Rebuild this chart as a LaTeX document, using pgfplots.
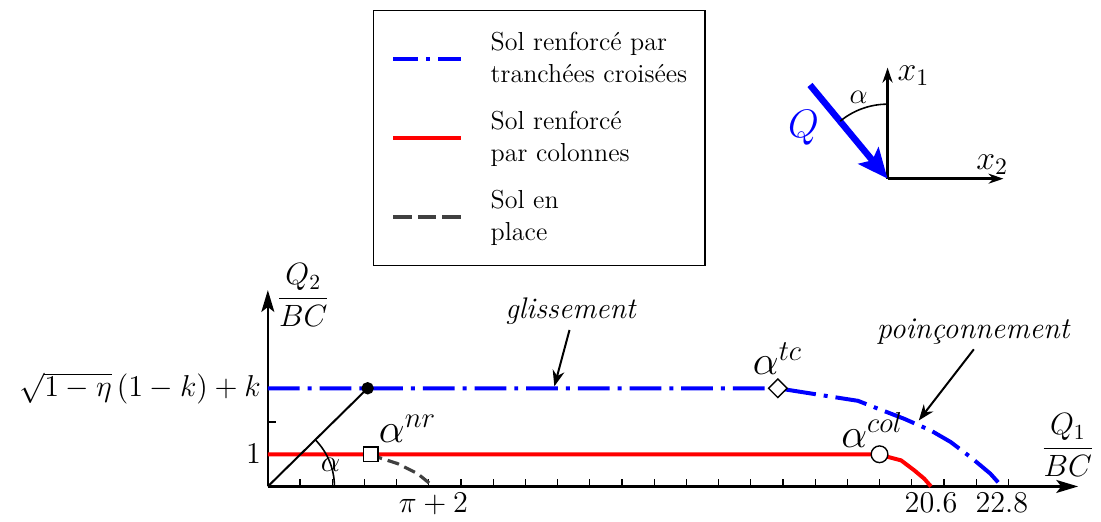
\RequirePackage{fix-cm}
\documentclass[border=0pt]{standalone}
\usepackage[no-math]{fontspec}
\usepackage{pgfplots}
\pgfplotsset{compat=1.18}
\usetikzlibrary{arrows.meta}
\definecolor{dg}{RGB}{64,64,64}
\newcommand\mf{\fontsize{15.2}{18}\selectfont}
\newcommand\ff{\fontsize{15.5}{18}\selectfont}
\newcommand\xf{\fontsize{17}{20}\selectfont}
\newcommand\sfa{\fontsize{14.4}{17}\selectfont}
\newcommand\af{\fontsize{20.7}{24}\selectfont}
\begin{document}
\begin{tikzpicture}
\begin{axis}[
  x=16.2pt, y=16.2pt,
  xmin=0, xmax=25.17, ymin=0, ymax=6.1,
  axis lines=middle,
  axis line style={line width=1.2pt, -{Stealth[length=11pt,width=6.5pt,inset=2.5pt]}},
  clip=false,
  xtick={1,...,23}, xticklabels={},
  extra x ticks={5.1416,20.6,22.8},
  extra x tick labels={$\pi+2$,$20.6$,$22.8$},
  extra x tick style={major tick length=0pt},
  ytick={1,2,3.05}, yticklabels={$1$,,$\sqrt{1-\eta}\,(1-k)+k$},
  tick align=inside,
  major tick length=4pt,
  tick style={line width=0.6pt, black},
  tick label style={font=\mf},
  legend image code/.code={\draw[#1] (0pt,0pt) -- (34pt,0pt);},
  legend cell align=left,
  legend style={at={(axis cs:3.26,14.80)}, anchor=north west, draw=black, line width=0.7pt,
    font=\fontsize{13.1}{16}\selectfont, inner xsep=9pt, inner ysep=11pt,
    row sep=13pt, column sep=14pt, nodes={inner sep=0pt, align=left}},
]
% invisible frame for the page size
\path (axis cs:-8.32,-1.0) rectangle (axis cs:25.67,15.11);

\addplot[blue, line width=2pt, dash pattern=on 16pt off 4pt on 2pt off 4pt,
  legend image code/.code={\draw[blue, line width=2pt, dash pattern=on 12.5pt off 4pt on 2pt off 4pt] (0pt,0pt) -- (34pt,0pt);}]
  coordinates {(0,3.05) (15.84,3.05) (16.22,2.99) (17.30,2.82) (18.33,2.66) (18.84,2.46) (19.77,2.10) (20.59,1.74) (21.21,1.38) (21.83,0.91) (22.44,0.40) (22.8,0)};
\addlegendentry{Sol renforcé par\\tranchées croisées}

\addplot[red, line width=2pt]
  coordinates {(0,1) (19.0,1) (19.25,0.92) (19.67,0.81) (20.08,0.50) (20.39,0.24) (20.6,0)};
\addlegendentry{Sol renforcé\\par colonnes}

\addplot[dg, line width=1.6pt, dash pattern=on 6pt off 3pt,
  legend image code/.code={\draw[dg, line width=1.6pt, dash pattern=on 9.33pt off 3pt] (0pt,0pt) -- (34pt,0pt);}]
  coordinates {(3.20,1) (3.41,0.91) (4.03,0.71) (4.65,0.40) (5.14,0)};
\addlegendentry{Sol en\\place}

% line from origin with dot
\addplot[black, line width=1pt, mark=*, mark indices={2}, mark size=2.6pt, forget plot]
  coordinates {(0,0) (3.10,3.05)};

% special points
\addplot[only marks, mark=square*, mark size=3.3pt, mark options={rotate=45, fill=white, draw=black, line width=0.7pt}, forget plot]
  coordinates {(15.84,3.05)};
\addplot[only marks, mark=square*, mark size=3.6pt, mark options={fill=white, draw=black, line width=0.7pt}, forget plot]
  coordinates {(3.20,1)};
\addplot[only marks, mark=*, mark size=4.2pt, mark options={fill=white, draw=black, line width=0.7pt}, forget plot]
  coordinates {(19.0,1)};

% angle alpha at origin
\draw[line width=0.8pt] (axis cs:0,0) ++(0:33.5pt) arc[start angle=0, end angle=44.5, radius=33.5pt];
\node[font=\ff] at (axis cs:1.95,0.68) {$\alpha$};

% point labels
\node[font=\af] at (axis cs:15.83,3.97) {$\alpha^{tc}$};
\node[font=\af] at (axis cs:4.34,1.79) {$\alpha^{nr}$};
\node[font=\af] at (axis cs:18.77,1.74) {$\alpha^{col}$};

% axis labels
\node[font=\ff] at (axis cs:1.10,5.94) {$\displaystyle\frac{Q_2}{BC}$};
\node[font=\ff] at (axis cs:24.85,1.28) {$\displaystyle\frac{Q_1}{BC}$};

% annotations
\node[font=\fontsize{15}{18}\selectfont\itshape] at (axis cs:9.40,5.44) {glissement};
\draw[line width=1pt, -{Stealth[length=8pt,width=6pt]}] (axis cs:9.37,4.86) -- (axis cs:8.90,3.11);
\node[font=\fontsize{15.2}{18}\selectfont\itshape] at (axis cs:21.91,4.80) {poinçonnement};
\draw[line width=1pt, -{Stealth[length=8pt,width=6pt]}] (axis cs:21.93,4.26) -- (axis cs:20.22,2.05);

% inset
\draw[line width=1.3pt, -{Stealth[length=7.5pt,width=5pt]}] (axis cs:19.25,9.56) -- (axis cs:19.25,13.01);
\draw[line width=1.3pt, -{Stealth[length=7.5pt,width=5pt]}] (axis cs:19.25,9.56) -- (axis cs:22.85,9.56);
\draw[blue, line width=3.3pt, -{Stealth[length=15pt,width=13pt,inset=3pt]}] (axis cs:16.84,12.47) -- (axis cs:19.25,9.56);
\draw[line width=0.8pt] (axis cs:19.25,9.56) ++(90:37.5pt) arc[start angle=90, end angle=129.5, radius=37.5pt];
\node[font=\sfa] at (axis cs:18.35,12.10) {$\alpha$};
\node[font=\xf] at (axis cs:20.05,12.77) {$x_1$};
\node[font=\xf] at (axis cs:22.50,9.99) {$x_2$};
\node[font=\fontsize{20}{23}\selectfont, text=blue] at (axis cs:16.64,11.13) {$Q$};
\end{axis}
\end{tikzpicture}
\end{document}
